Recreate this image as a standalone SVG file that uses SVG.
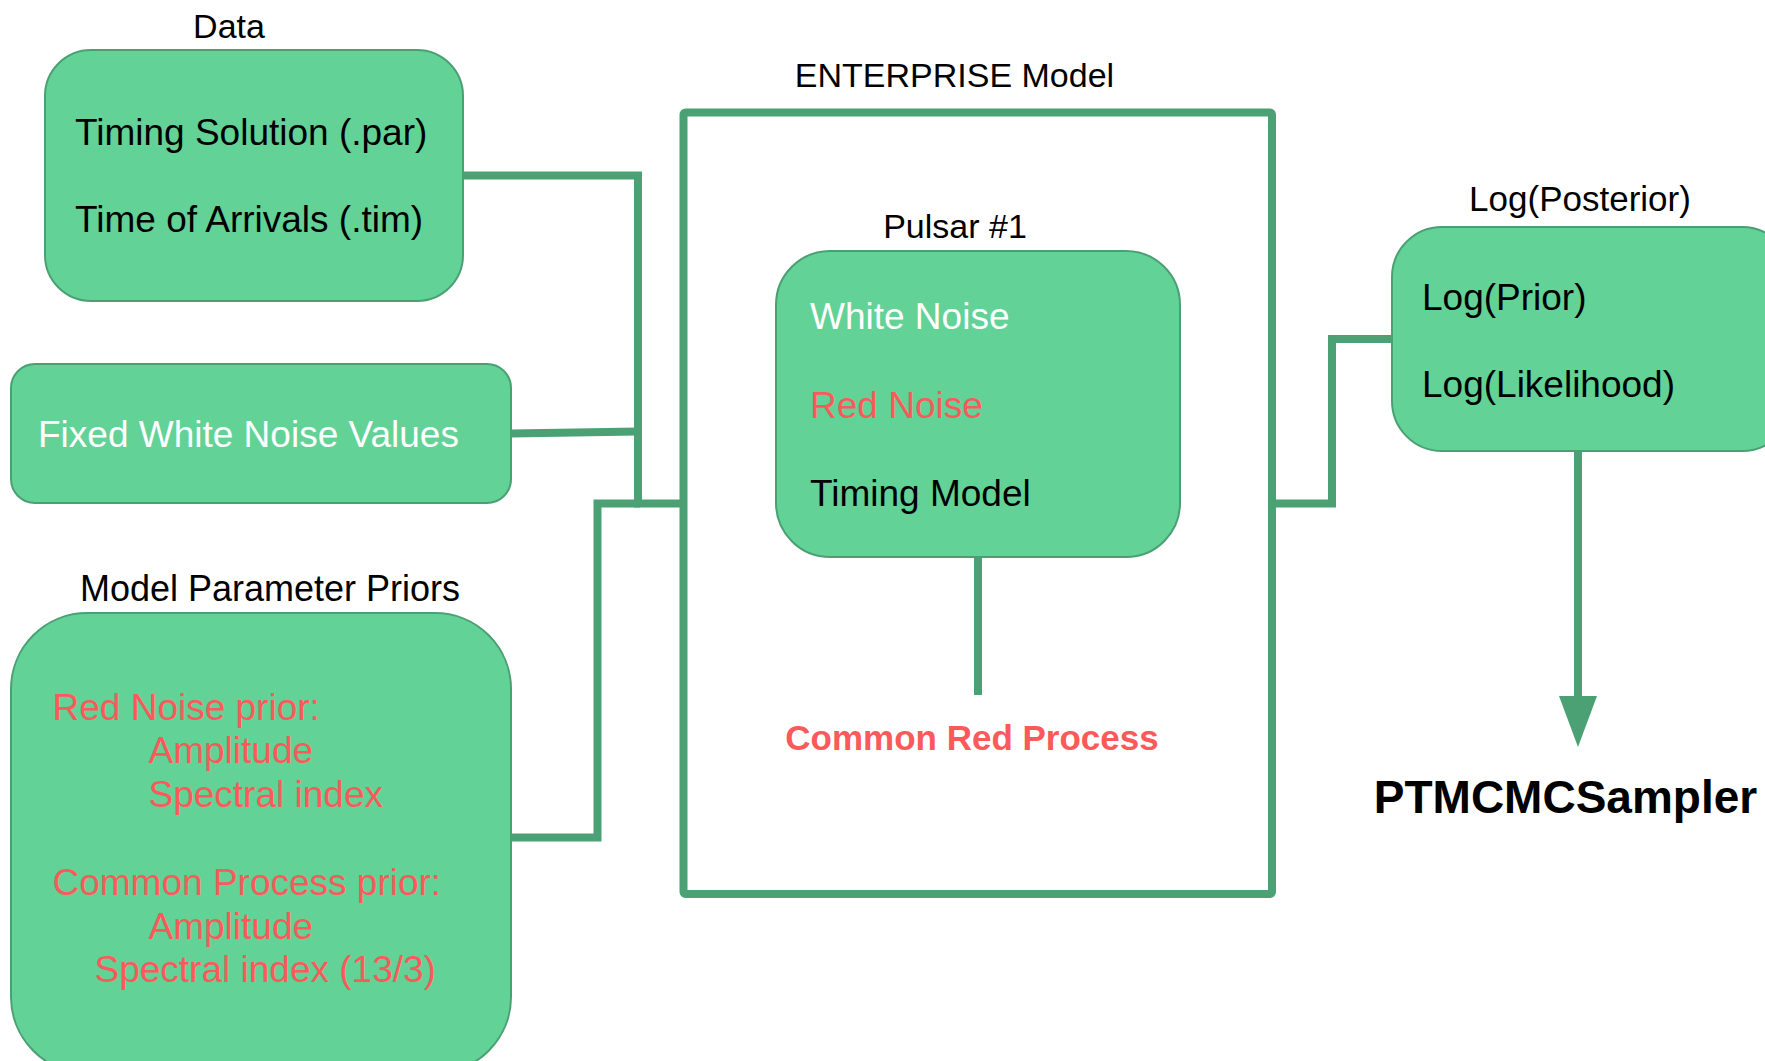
<svg xmlns="http://www.w3.org/2000/svg" width="1765" height="1061" viewBox="0 0 1765 1061">
<defs>
<style>
.box{fill:#63d297;stroke:#4aa073;stroke-width:2}
.conn{fill:none;stroke:#4ba173;stroke-width:8;stroke-linejoin:miter}
.lbl{font-family:"Liberation Sans",Arial,sans-serif;font-size:34px;fill:#000;text-anchor:middle}
.t{font-family:"Liberation Sans",Arial,sans-serif;font-size:37px}
.blk{fill:#000}
.wht{fill:#fff}
.red{fill:#fb5a5a}
</style>
</defs>
<rect width="1765" height="1061" fill="#fff"/>

<g id="connectors">
<polyline class="conn" points="463,175.5 638,175.5 638,503.5 683,503.5"/>
<polyline class="conn" points="511,433.5 638,431.5"/>
<polyline class="conn" points="511,837.5 597.5,837.5 597.5,503.5 640,503.5"/>
<line class="conn" x1="978" y1="557" x2="978" y2="695"/>
<polyline class="conn" points="1392,339 1332,339 1332,503.5 1272,503.5"/>
<line class="conn" x1="1578" y1="451" x2="1578" y2="697"/>
<polygon points="1559,696 1597,696 1578,747" fill="#4ba173"/>
</g>

<g id="enterprise">
<rect x="683.5" y="112.5" width="588.5" height="781.5" fill="none" stroke="#4ba173" stroke-width="8" rx="2"/>
<text class="lbl" x="954.5" y="86.5">ENTERPRISE Model</text>
</g>

<g id="data">
<text class="lbl" x="229" y="37.5">Data</text>
<rect class="box" x="45" y="50" width="418" height="251" rx="46"/>
<text class="t blk" x="75" y="145">Timing Solution (.par)</text>
<text class="t blk" x="75" y="232">Time of Arrivals (.tim)</text>
</g>

<g id="fixed-white-noise">
<rect class="box" x="11" y="364" width="500" height="139" rx="24"/>
<text class="t wht" x="38" y="447">Fixed White Noise Values</text>
</g>

<g id="priors">
<text class="lbl" x="270" y="601" style="font-size:36px">Model Parameter Priors</text>
<rect class="box" x="11" y="613" width="500" height="460" rx="76"/>
<text class="t red" x="52.5" y="719.5">Red Noise prior:</text>
<text class="t red" x="148.5" y="763">Amplitude</text>
<text class="t red" x="148.5" y="807">Spectral index</text>
<text class="t red" x="52.5" y="895">Common Process prior:</text>
<text class="t red" x="148.5" y="939">Amplitude</text>
<text class="t red" x="94.5" y="982">Spectral index (13/3)</text>
</g>

<g id="pulsar">
<text class="lbl" x="955" y="238">Pulsar #1</text>
<rect class="box" x="776" y="251" width="404" height="306" rx="54"/>
<text class="t wht" x="810" y="329">White Noise</text>
<text class="t red" x="810" y="418">Red Noise</text>
<text class="t blk" x="810" y="506">Timing Model</text>
</g>

<g id="common-red-process">
<text x="972" y="750" font-family="Liberation Sans,Arial,sans-serif" font-size="35" font-weight="bold" fill="#fb5a5a" text-anchor="middle">Common Red Process</text>
</g>

<g id="log-posterior">
<text class="lbl" x="1580" y="211" style="font-size:35px">Log(Posterior)</text>
<rect class="box" x="1392" y="227" width="400" height="224" rx="50"/>
<text class="t blk" x="1422" y="310">Log(Prior)</text>
<text class="t blk" x="1422" y="397">Log(Likelihood)</text>
</g>

<g id="ptmcmc">
<text x="1565.5" y="813" font-family="Liberation Sans,Arial,sans-serif" font-size="46" font-weight="bold" fill="#000" text-anchor="middle">PTMCMCSampler</text>
</g>
</svg>
